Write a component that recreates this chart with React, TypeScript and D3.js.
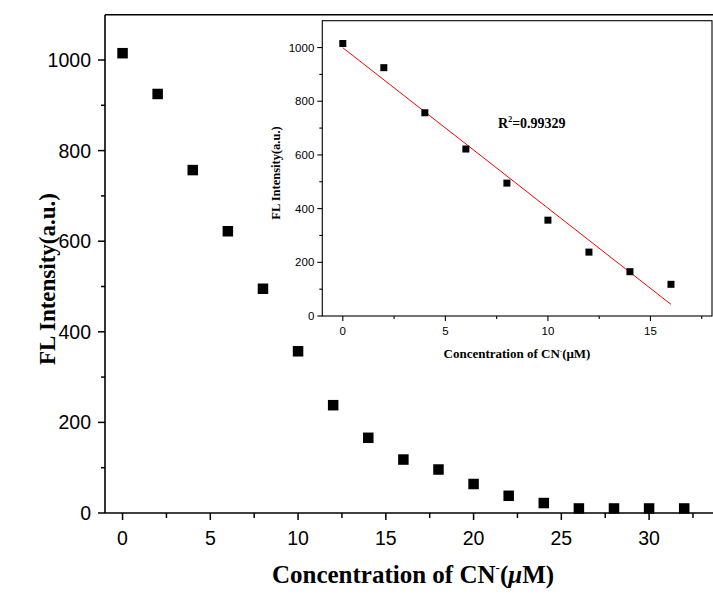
import React from "react";
import * as d3 from "d3";

// Fluorescence intensity vs cyanide concentration
const concentrations = [0, 2, 4, 6, 8, 10, 12, 14, 16, 18, 20, 22, 24, 26, 28, 30, 32];
const intensities = [1015, 925, 757, 622, 495, 357, 238, 166, 118, 96, 64, 38, 22, 10, 10, 10, 10];

// Linear range used in the inset
const linConc = [0, 2, 4, 6, 8, 10, 12, 14, 16];
const linInt = [1015, 925, 757, 622, 495, 357, 238, 165, 118];
const r2Label = "0.99329";

const mainXTicks = [0, 5, 10, 15, 20, 25, 30];
const mainXMinor = [2.5, 7.5, 12.5, 17.5, 22.5, 27.5, 32.5];
const mainYTicks = [0, 200, 400, 600, 800, 1000];
const mainYMinor = [100, 300, 500, 700, 900];
const insetXTicks = [0, 5, 10, 15];
const insetXMinor = [2.5, 7.5, 12.5, 17.5];
const insetYTicks = [0, 200, 400, 600, 800, 1000];
const insetYMinor = [100, 300, 500, 700, 900];

const SANS = "'Liberation Sans', Arial, sans-serif";
const SERIF = "'Liberation Serif', 'Times New Roman', serif";

export default function App() {
  const W = 713;
  const H = 595;

  const x = d3.scaleLinear().domain([-1, 34]).range([105, 719.3]);
  const y = d3.scaleLinear().domain([0, 1100]).range([513, 14.7]);

  const ix = d3.scaleLinear().domain([-1, 18]).range([322.3, 712]);
  const iy = d3.scaleLinear().domain([0, 1100]).range([316, 20.7]);

  // least-squares fit for the linear range
  const mx = d3.mean(linConc)!;
  const my = d3.mean(linInt)!;
  let sxy = 0;
  let sxx = 0;
  linConc.forEach((c, i) => {
    sxy += (c - mx) * (linInt[i] - my);
    sxx += (c - mx) * (c - mx);
  });
  const slope = sxy / sxx;
  const intercept = my - slope * mx;
  const fitX = [0, 16];
  const fitLine = d3
    .line<number>()
    .x((d) => ix(d))
    .y((d) => iy(intercept + slope * d));

  const mainS = 10.5;
  const insS = 7;

  return (
    <svg width={W} height={H} style={{ position: "absolute", left: 0, top: 0, background: "#fff" }}>
      {/* main frame */}
      <g stroke="#000" strokeWidth={1.6} fill="none">
        <line x1={x(-1)} x2={W} y1={y(0)} y2={y(0)} />
        <line x1={x(-1)} x2={x(-1)} y1={y(0)} y2={y(1100)} />
        <line x1={x(-1)} x2={W} y1={y(1100)} y2={y(1100)} />
      </g>
      {/* main ticks */}
      <g stroke="#000" strokeWidth={1.5}>
        {mainXTicks.map((t) => (
          <line key={"mx" + t} x1={x(t)} x2={x(t)} y1={y(0)} y2={y(0) + 7} />
        ))}
        {mainXMinor.map((t) => (
          <line key={"mxm" + t} x1={x(t)} x2={x(t)} y1={y(0)} y2={y(0) + 5} />
        ))}
        {mainYTicks.map((t) => (
          <line key={"my" + t} x1={x(-1)} x2={x(-1) - 7} y1={y(t)} y2={y(t)} />
        ))}
        {mainYMinor.map((t) => (
          <line key={"mym" + t} x1={x(-1)} x2={x(-1) - 4} y1={y(t)} y2={y(t)} />
        ))}
      </g>
      <g fontFamily={SANS} fontSize={19.5} fill="#000">
        {mainXTicks.map((t) => (
          <text key={"mxl" + t} x={x(t)} y={y(0) + 32} textAnchor="middle">
            {t}
          </text>
        ))}
        {mainYTicks.map((t) => (
          <text key={"myl" + t} x={x(-1) - 14} y={y(t) + 7} textAnchor="end">
            {t}
          </text>
        ))}
      </g>
      <text
        fontFamily={SERIF}
        fontWeight="bold"
        fontSize={23}
        textAnchor="middle"
        transform={`translate(55,279) rotate(-90)`}
      >
        FL Intensity(a.u.)
      </text>
      <text fontFamily={SERIF} fontWeight="bold" fontSize={25} textAnchor="middle" x={413} y={583}>
        Concentration of CN
        <tspan fontSize={13} dy={-11}>-</tspan>
        <tspan dy={11}>(</tspan>
        <tspan fontStyle="italic">μ</tspan>M)
      </text>
      {/* main markers */}
      <g fill="#000">
        {concentrations.map((c, i) => (
          <rect key={"m" + c} x={x(c) - mainS / 2} y={y(intensities[i]) - mainS / 2} width={mainS} height={mainS} />
        ))}
      </g>

      {/* inset */}
      <rect x={ix(-1)} y={iy(1100)} width={ix(18) - ix(-1)} height={iy(0) - iy(1100)} fill="#fff" />
      <g stroke="#000" strokeWidth={1.1} fill="none">
        <rect x={ix(-1)} y={iy(1100)} width={ix(18) - ix(-1)} height={iy(0) - iy(1100)} />
        {insetXTicks.map((t) => (
          <line key={"ix" + t} x1={ix(t)} x2={ix(t)} y1={iy(0)} y2={iy(0) + 5} />
        ))}
        {insetXMinor.map((t) => (
          <line key={"ixm" + t} x1={ix(t)} x2={ix(t)} y1={iy(0)} y2={iy(0) + 3} />
        ))}
        {insetYTicks.map((t) => (
          <line key={"iy" + t} x1={ix(-1)} x2={ix(-1) - 5} y1={iy(t)} y2={iy(t)} />
        ))}
        {insetYMinor.map((t) => (
          <line key={"iym" + t} x1={ix(-1)} x2={ix(-1) - 3} y1={iy(t)} y2={iy(t)} />
        ))}
      </g>
      <g fontFamily={SANS} fontSize={11.5} fill="#000">
        {insetXTicks.map((t) => (
          <text key={"ixl" + t} x={ix(t)} y={iy(0) + 19} textAnchor="middle">
            {t}
          </text>
        ))}
        {insetYTicks.map((t) => (
          <text key={"iyl" + t} x={ix(-1) - 8} y={iy(t) + 4} textAnchor="end">
            {t}
          </text>
        ))}
      </g>
      <text
        fontFamily={SERIF}
        fontWeight="bold"
        fontSize={12.5}
        textAnchor="middle"
        transform={`translate(280,173) rotate(-90)`}
      >
        FL Intensity(a.u.)
      </text>
      <text fontFamily={SERIF} fontWeight="bold" fontSize={13} textAnchor="middle" x={517} y={358}>
        Concentration of CN
        <tspan fontSize={7} dy={-5}>-</tspan>
        <tspan dy={5}>(μM)</tspan>
      </text>
      <text fontFamily={SERIF} fontWeight="bold" fontSize={14} x={498} y={128}>
        R<tspan fontSize={8} dy={-6}>2</tspan>
        <tspan dy={6}>={r2Label}</tspan>
      </text>
      <path d={fitLine(fitX) || ""} stroke="#ff0000" strokeWidth={1} fill="none" />
      <g fill="#000">
        {linConc.map((c, i) => (
          <rect key={"i" + c} x={ix(c) - insS / 2} y={iy(linInt[i]) - insS / 2} width={insS} height={insS} />
        ))}
      </g>
    </svg>
  );
}
